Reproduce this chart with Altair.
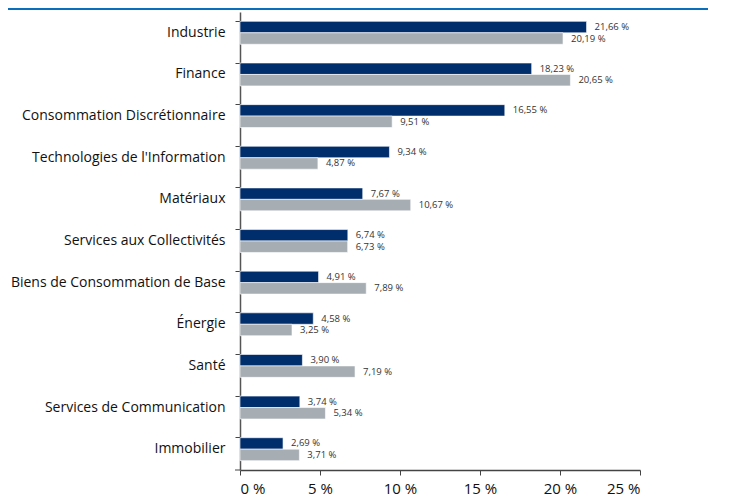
import altair as alt
import pandas as pd

categories = [
    "Industrie", "Finance", "Consommation Discrétionnaire",
    "Technologies de l'Information", "Matériaux", "Services aux Collectivités",
    "Biens de Consommation de Base", "Énergie", "Santé",
    "Services de Communication", "Immobilier",
]
series_a = [21.66, 18.23, 16.55, 9.34, 7.67, 6.74, 4.91, 4.58, 3.90, 3.74, 2.69]
series_b = [20.19, 20.65, 9.51, 4.87, 10.67, 6.73, 7.89, 3.25, 7.19, 5.34, 3.71]
series_names = ["Fonds", "Indice"]
x_ticks = [0, 5, 10, 15, 20, 25]

rows = []
for c, a, b in zip(categories, series_a, series_b):
    rows.append({"cat": c, "serie": series_names[0], "v": a,
                 "lab": f"{a:.2f}".replace(".", ",") + " %"})
    rows.append({"cat": c, "serie": series_names[1], "v": b,
                 "lab": f"{b:.2f}".replace(".", ",") + " %"})
df = pd.DataFrame(rows)

FONT = "Open Sans"

y_enc = alt.Y("cat:N", sort=categories, title=None,
              scale=alt.Scale(paddingInner=0.45, paddingOuter=0.225),
              axis=alt.Axis(bandPosition=0, labelFont=FONT, labelFontSize=14,
                            labelColor="#111111", labelPadding=10, labelLimit=300,
                            tickSize=5, tickColor="#444444", domainColor="#555555",
                            domainWidth=1.5, grid=False))
x_enc = alt.X("v:Q", title=None,
              scale=alt.Scale(domain=[0, 25], nice=False),
              axis=alt.Axis(values=x_ticks, labelExpr="datum.value + ' %'",
                            labelFont=FONT, labelFontSize=15, labelColor="#111111",
                            tickSize=5, tickColor="#444444", domainColor="#444444",
                            domainWidth=1.5, labelPadding=6, grid=False))
yoff = alt.YOffset("serie:N", sort=series_names)
col = alt.Color("serie:N", sort=series_names, legend=None,
                scale=alt.Scale(domain=series_names, range=["#002D6B", "#A6ADB3"]))

bars = alt.Chart(df).mark_bar(stroke="white", strokeWidth=0.6).encode(
    y=y_enc, x=x_enc, yOffset=yoff, color=col)

labels = alt.Chart(df).mark_text(align="left", baseline="middle", dx=8,
                                 font=FONT, fontSize=9.5, color="#333333").encode(
    y=alt.Y("cat:N", sort=categories), x="v:Q", yOffset=yoff, text="lab:N")

top_rule = alt.Chart(pd.DataFrame({"k": [0]})).mark_rule(
    color="#0A6EBD", strokeWidth=2).encode(
    x=alt.value(-232), x2=alt.value(468), y=alt.value(-3))

bottom_tick = alt.Chart(pd.DataFrame({"k": [0]})).mark_rule(
    color="#444444", strokeWidth=1).encode(
    x=alt.value(-5), x2=alt.value(0), y=alt.value(458))

chart = alt.layer(bars, labels, top_rule, bottom_tick).properties(
    width=400, height=458,
    padding={"left": 232, "top": 4, "right": 86, "bottom": 36},
    autosize=alt.AutoSizeParams(type="none"),
).configure_view(stroke=None)

chart.save("out.html", embed_options={"renderer": "svg", "actions": False})
